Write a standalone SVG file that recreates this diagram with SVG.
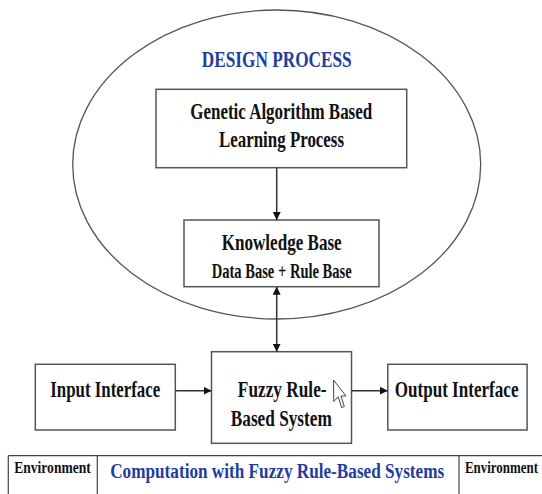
<svg xmlns="http://www.w3.org/2000/svg" width="542" height="494" viewBox="0 0 542 494">
<style>
.box{fill:#fff;stroke:#555;stroke-width:1.5}
.t{font-family:"Liberation Serif","Times New Roman",serif;font-weight:bold;fill:#111;text-anchor:middle}
.b{fill:#1f3d9c}
.ln{stroke:#333;stroke-width:1.5;fill:none}
.tbl{stroke:#444;stroke-width:1.2;fill:none}
</style>
<defs>
<marker id="ah" viewBox="0 0 10 10" refX="10" refY="5" markerWidth="8" markerHeight="8" markerUnits="userSpaceOnUse" orient="auto-start-reverse">
<path d="M0,0 L10,5 L0,10 z" fill="#111"/>
</marker>
</defs>
<rect width="542" height="494" fill="#fff"/>
<g id="design-process">
<ellipse cx="276.7" cy="164.5" rx="204" ry="154.5" fill="none" stroke="#555" stroke-width="1.3"/>
<text class="t b" transform="translate(276.7,66.7) scale(0.78,1)" font-size="23" textLength="192.3" lengthAdjust="spacingAndGlyphs">DESIGN PROCESS</text>
</g>
<g id="genetic">
<rect class="box" x="156" y="89.3" width="250.7" height="78.4"/>
<text class="t" transform="translate(281.2,118.8) scale(0.78,1)" font-size="23" textLength="233.3" lengthAdjust="spacingAndGlyphs">Genetic Algorithm Based</text>
<text class="t" transform="translate(281.5,146.7) scale(0.78,1)" font-size="23" textLength="160.3" lengthAdjust="spacingAndGlyphs">Learning Process</text>
</g>
<g id="knowledge">
<rect class="box" x="184" y="220" width="195" height="66.7"/>
<text class="t" transform="translate(281.7,250) scale(0.78,1)" font-size="23" textLength="153.8" lengthAdjust="spacingAndGlyphs">Knowledge Base</text>
<text class="t" transform="translate(281.7,278.3) scale(0.78,1)" font-size="20" textLength="179.5" lengthAdjust="spacingAndGlyphs">Data Base + Rule Base</text>
</g>
<g id="input">
<rect class="box" x="35.3" y="364.3" width="140" height="65.7"/>
<text class="t" transform="translate(105.2,397.3) scale(0.78,1)" font-size="23" textLength="141" lengthAdjust="spacingAndGlyphs">Input Interface</text>
</g>
<g id="fuzzy">
<rect class="box" x="211.5" y="351.7" width="140" height="91.6"/>
<text class="t" transform="translate(282.2,397) scale(0.78,1)" font-size="23" textLength="113.8" lengthAdjust="spacingAndGlyphs">Fuzzy Rule-</text>
<text class="t" transform="translate(281.3,425.5) scale(0.78,1)" font-size="23" textLength="129.5" lengthAdjust="spacingAndGlyphs">Based System</text>
<path d="M333.5,380 L333.8,401.5 L338.3,396.8 L341.6,407.6 L344.3,406.5 L341,396 L346,396 Z" fill="#fff" stroke="#444" stroke-width="1" stroke-linejoin="round"/>
</g>
<g id="output">
<rect class="box" x="387.8" y="364.3" width="139.3" height="65.7"/>
<text class="t" transform="translate(456.6,397.3) scale(0.78,1)" font-size="23" textLength="158.7" lengthAdjust="spacingAndGlyphs">Output Interface</text>
</g>
<g id="environment-table">
<path class="tbl" d="M8.3,455.7 H542 M8.3,455.7 V494 M97.3,455.7 V494 M459,455.7 V494"/>
<text class="t" transform="translate(52.5,473.3) scale(0.78,1)" font-size="16" textLength="97.9" lengthAdjust="spacingAndGlyphs">Environment</text>
<text class="t b" transform="translate(277.2,478.3) scale(0.78,1)" font-size="22" textLength="428.2" lengthAdjust="spacingAndGlyphs">Computation with Fuzzy Rule-Based Systems</text>
<text class="t" transform="translate(501.5,473.3) scale(0.78,1)" font-size="16" textLength="93.6" lengthAdjust="spacingAndGlyphs">Environment</text>
</g>
<g id="connectors">
<line class="ln" x1="276.7" y1="167.7" x2="276.7" y2="220" marker-end="url(#ah)"/>
<line class="ln" x1="276.7" y1="286.7" x2="276.7" y2="351.7" marker-start="url(#ah)" marker-end="url(#ah)"/>
<line class="ln" x1="175.3" y1="390.7" x2="211.5" y2="390.7" marker-end="url(#ah)"/>
<line class="ln" x1="351.5" y1="390.7" x2="387.8" y2="390.7" marker-end="url(#ah)"/>
</g>
</svg>
